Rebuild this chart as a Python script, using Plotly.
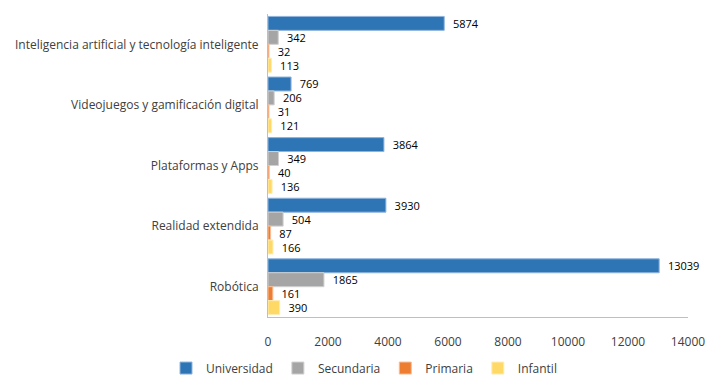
import plotly.graph_objects as go

categories = [
    "Inteligencia artificial y tecnología inteligente",
    "Videojuegos y gamificación digital",
    "Plataformas y Apps",
    "Realidad extendida",
    "Robótica",
]
series_names = ["Universidad", "Secundaria", "Primaria", "Infantil"]
universidad = [5874, 769, 3864, 3930, 13039]
secundaria = [342, 206, 349, 504, 1865]
primaria = [32, 31, 40, 87, 161]
infantil = [113, 121, 136, 166, 390]
x_ticks = [0, 2000, 4000, 6000, 8000, 10000, 12000, 14000]

values = [universidad, secundaria, primaria, infantil]
colors = ["#2E75B6", "#A5A5A5", "#ED7D31", "#FFD966"]
edges = ["#8FB4DC", "#D0D0D0", "#F6BE98", "#FFECB3"]

fig = go.Figure()
for name, vals, c, e in zip(series_names, values, colors, edges):
    fig.add_trace(go.Bar(
        y=categories, x=vals, name=name, orientation="h",
        marker=dict(color=c, line=dict(color=e, width=1)),
        text=["\u00a0\u00a0" + str(v) for v in vals], textposition="outside",
        constraintext="none",
        textfont=dict(family="Open Sans", size=11, color="#000000"),
        cliponaxis=False,
    ))

# page body has an 8px margin, so the figure is drawn 8px in from the top-left
fig.update_layout(
    width=712, height=379,
    margin=dict(l=260, r=32, t=6, b=70, autoexpand=False),
    barmode="group", bargap=0.08, bargroupgap=0,
    plot_bgcolor="white", paper_bgcolor="white",
    font=dict(family="Open Sans", size=12, color="#404040"),
    showlegend=True,
    legend=dict(orientation="h", xref="container", x=0.5, xanchor="center",
                yref="container", y=0.05, yanchor="middle",
                font=dict(size=12, color="#404040"), traceorder="normal",
                itemwidth=30, tracegroupgap=0),
)
fig.update_xaxes(range=[0, 14000], tickvals=x_ticks, ticktext=[str(t) for t in x_ticks],
                 showgrid=False, zeroline=False, showline=True, linecolor="#BFBFBF",
                 ticks="", tickfont=dict(size=12, color="#404040"), automargin=False,
                 ticklabelstandoff=14)
fig.update_yaxes(autorange="reversed", showgrid=False, showline=True, linecolor="#BFBFBF",
                 ticks="", tickfont=dict(size=12, color="#404040"), ticklabelstandoff=6,
                 automargin=False)

fig.write_html("out.html")
